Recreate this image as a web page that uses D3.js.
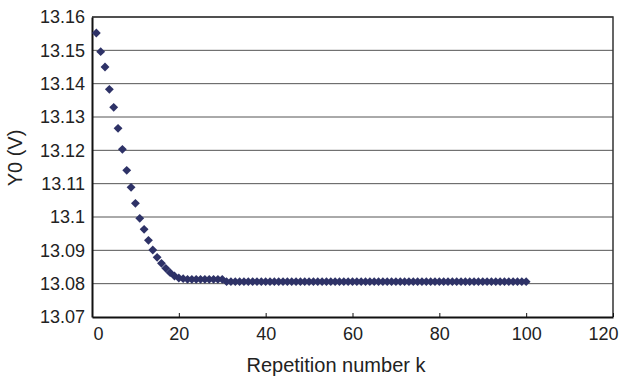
<!DOCTYPE html>
<html lang="en">
<head>
    <meta charset="UTF-8">
    <title>Y0 vs repetition number</title>
    <script src="https://d3js.org/d3.v7.min.js"></script>
    <style>
        body { margin: 0; background: #fff; }
        svg text { font-family: "Liberation Sans", Arial, Helvetica, sans-serif; fill: #222; }
    </style>
</head>
<body>
    <div id="chart"></div>
    <script>

// measured values, k = 1..100
const kValues = d3.range(1, 101);
const y0Values = [
    13.1552, 13.1496, 13.1450, 13.1383, 13.1329, 13.1266, 13.1203, 13.1140, 13.1089, 13.1041,
    13.0996, 13.0963, 13.0930, 13.0901, 13.0879, 13.0861, 13.0846, 13.0833, 13.0823, 13.0817,
    13.0815, 13.0813, 13.0813, 13.0813, 13.0813, 13.0813, 13.0813, 13.0813, 13.0813, 13.0813,
    13.0806, 13.0806, 13.0806, 13.0806, 13.0806, 13.0806, 13.0806, 13.0806, 13.0806, 13.0806,
    13.0806, 13.0806, 13.0806, 13.0806, 13.0806, 13.0806, 13.0806, 13.0806, 13.0806, 13.0806,
    13.0806, 13.0806, 13.0806, 13.0806, 13.0806, 13.0806, 13.0806, 13.0806, 13.0806, 13.0806,
    13.0806, 13.0806, 13.0806, 13.0806, 13.0806, 13.0806, 13.0806, 13.0806, 13.0806, 13.0806,
    13.0806, 13.0806, 13.0806, 13.0806, 13.0806, 13.0806, 13.0806, 13.0806, 13.0806, 13.0806,
    13.0806, 13.0806, 13.0806, 13.0806, 13.0806, 13.0806, 13.0806, 13.0806, 13.0806, 13.0806,
    13.0806, 13.0806, 13.0806, 13.0806, 13.0806, 13.0806, 13.0806, 13.0806, 13.0806, 13.0806
];
const xTicks = [0, 20, 40, 60, 80, 100, 120];
const yTicks = [13.07, 13.08, 13.09, 13.10, 13.11, 13.12, 13.13, 13.14, 13.15, 13.16];
const yTickLabels = ["13.07", "13.08", "13.09", "13.1", "13.11", "13.12", "13.13", "13.14", "13.15", "13.16"];

const width = 620, height = 378;
const margin = { top: 17, right: 7, bottom: 61, left: 92 };

const svg = d3.select("#chart").append("svg")
    .attr("width", width)
    .attr("height", height);

const x = d3.scaleLinear().domain([0, 120]).range([margin.left, width - margin.right]);
const y = d3.scaleLinear().domain([13.07, 13.16]).range([height - margin.bottom, margin.top]);

// horizontal gridlines
svg.append("g")
    .selectAll("line")
    .data(yTicks.slice(1))
    .enter().append("line")
    .attr("x1", x(0)).attr("x2", x(120))
    .attr("y1", d => y(d)).attr("y2", d => y(d))
    .attr("stroke", "#555")
    .attr("stroke-width", 1);

// frame top/right
svg.append("path")
    .attr("d", `M${x(0)},${y(13.16)}H${x(120)}V${y(13.07)}`)
    .attr("fill", "none")
    .attr("stroke", "#333")
    .attr("stroke-width", 1.5);

// x axis
const xAxis = svg.append("g")
    .attr("transform", `translate(0,${y(13.07)})`)
    .call(d3.axisBottom(x).tickValues(xTicks).tickSize(-4).tickPadding(10).tickSizeOuter(0));
xAxis.select(".domain").attr("stroke", "#111").attr("stroke-width", 2);
xAxis.selectAll(".tick line").attr("stroke", "#111");
xAxis.selectAll(".tick text")
    .attr("font-size", 18)
    .attr("dx", d => d === 0 ? 6 : d === 120 ? -10 : 0);

// y axis
const yAxis = svg.append("g")
    .attr("transform", `translate(${x(0)},0)`)
    .call(d3.axisLeft(y).tickValues(yTicks).tickFormat((d, i) => yTickLabels[i]).tickSize(0).tickPadding(7));
yAxis.select(".domain").attr("stroke", "#111").attr("stroke-width", 2);
yAxis.selectAll(".tick text").attr("font-size", 18);

// markers
svg.append("g")
    .selectAll("path")
    .data(kValues.map((k, i) => [k, y0Values[i]]))
    .enter().append("path")
    .attr("d", d3.symbol().type(d3.symbolDiamond2).size(50))
    .attr("transform", d => `translate(${x(d[0])},${y(d[1])})`)
    .attr("fill", "#2e3267");

// axis titles
svg.append("text")
    .attr("x", 336)
    .attr("y", 372)
    .attr("text-anchor", "middle")
    .attr("font-size", 20)
    .text("Repetition number k");

svg.append("text")
    .attr("transform", `translate(22,158) rotate(-90)`)
    .attr("text-anchor", "middle")
    .attr("font-size", 20)
    .text("Y0 (V)");

    </script>
</body>
</html>
